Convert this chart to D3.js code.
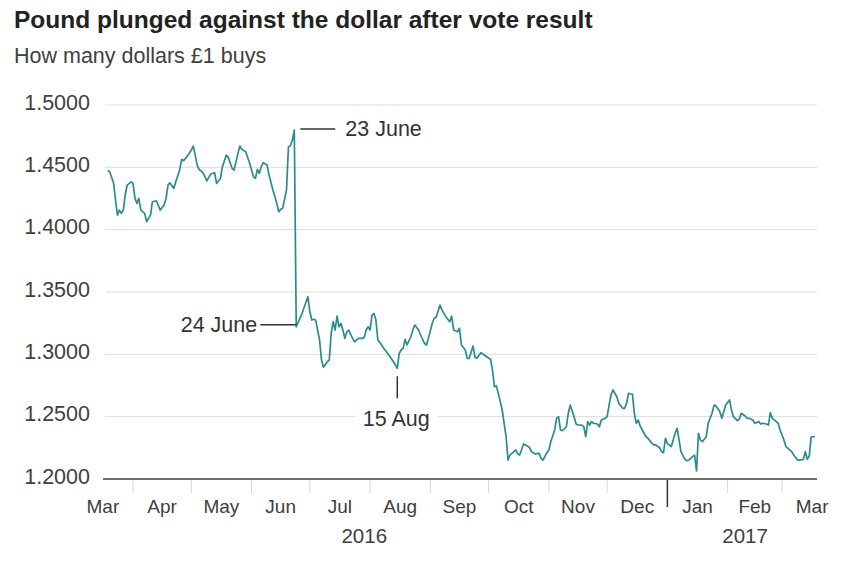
<!DOCTYPE html>
<html>
<head>
<meta charset="utf-8">
<script src="https://cdn.jsdelivr.net/npm/d3@7"></script>
<style>
  html, body { margin: 0; padding: 0; background: #fff; }
  svg { display: block; font-family: "Liberation Sans", Arial, Helvetica, sans-serif; }
</style>
</head>
<body>
<svg id="chart" width="859" height="564"></svg>
<script>
// ---- Data ----
const titleText = "Pound plunged against the dollar after vote result";
const subtitleText = "How many dollars £1 buys";

const dates = [
 "2016-03-19","2016-03-20","2016-03-22","2016-03-23","2016-03-24","2016-03-25","2016-03-26","2016-03-27","2016-03-28","2016-03-29","2016-03-31",
 "2016-04-01","2016-04-02","2016-04-03","2016-04-04","2016-04-05","2016-04-07","2016-04-08","2016-04-10","2016-04-11","2016-04-13","2016-04-14","2016-04-15","2016-04-17","2016-04-18","2016-04-19","2016-04-20","2016-04-22","2016-04-23","2016-04-25","2016-04-26","2016-04-27","2016-04-29",
 "2016-05-01","2016-05-02","2016-05-03","2016-05-04","2016-05-05","2016-05-07","2016-05-09","2016-05-11","2016-05-13","2016-05-14","2016-05-16","2016-05-17","2016-05-19","2016-05-20","2016-05-22","2016-05-23","2016-05-25","2016-05-26","2016-05-27","2016-05-29","2016-05-31",
 "2016-06-02","2016-06-03","2016-06-04","2016-06-05","2016-06-06","2016-06-07","2016-06-09","2016-06-10","2016-06-12","2016-06-14","2016-06-15","2016-06-16","2016-06-17","2016-06-19","2016-06-20","2016-06-21","2016-06-22","2016-06-23","2016-06-24","2016-06-27","2016-06-30",
 "2016-07-01","2016-07-02","2016-07-03","2016-07-04","2016-07-06","2016-07-07","2016-07-08","2016-07-10","2016-07-11","2016-07-12","2016-07-13","2016-07-14","2016-07-15","2016-07-16","2016-07-17","2016-07-18","2016-07-19","2016-07-20","2016-07-21","2016-07-23","2016-07-24","2016-07-26","2016-07-28","2016-07-29","2016-07-30","2016-07-31",
 "2016-08-01","2016-08-02","2016-08-03","2016-08-04","2016-08-05","2016-08-07","2016-08-08","2016-08-10","2016-08-11","2016-08-13","2016-08-15","2016-08-16","2016-08-17","2016-08-18","2016-08-19","2016-08-20","2016-08-22","2016-08-23","2016-08-24","2016-08-26","2016-08-27","2016-08-29","2016-08-30","2016-08-31",
 "2016-09-02","2016-09-03","2016-09-04","2016-09-06","2016-09-07","2016-09-09","2016-09-11","2016-09-12","2016-09-13","2016-09-15","2016-09-16","2016-09-17","2016-09-19","2016-09-20","2016-09-21","2016-09-23","2016-09-24","2016-09-25","2016-09-27","2016-09-28","2016-09-30",
 "2016-10-02","2016-10-03","2016-10-04","2016-10-05","2016-10-06","2016-10-08","2016-10-09","2016-10-10","2016-10-11","2016-10-12","2016-10-14","2016-10-15","2016-10-16","2016-10-17","2016-10-19","2016-10-20","2016-10-22","2016-10-23","2016-10-25","2016-10-27","2016-10-28","2016-10-29","2016-10-31",
 "2016-11-01","2016-11-02","2016-11-04","2016-11-05","2016-11-06","2016-11-07","2016-11-08","2016-11-10","2016-11-11","2016-11-12","2016-11-14","2016-11-15","2016-11-16","2016-11-18","2016-11-19","2016-11-20","2016-11-21","2016-11-22","2016-11-23","2016-11-24","2016-11-26","2016-11-27","2016-11-28","2016-11-30",
 "2016-12-01","2016-12-02","2016-12-03","2016-12-04","2016-12-06","2016-12-07","2016-12-09","2016-12-10","2016-12-11","2016-12-12","2016-12-13","2016-12-14","2016-12-15","2016-12-16","2016-12-17","2016-12-18","2016-12-20","2016-12-21","2016-12-22","2016-12-24","2016-12-25","2016-12-26","2016-12-28","2016-12-29","2016-12-30","2016-12-31",
 "2017-01-01","2017-01-03","2017-01-04","2017-01-05","2017-01-06","2017-01-07","2017-01-08","2017-01-10","2017-01-11","2017-01-12","2017-01-14","2017-01-15","2017-01-16","2017-01-17","2017-01-18","2017-01-19","2017-01-21","2017-01-22","2017-01-24","2017-01-25","2017-01-26","2017-01-28","2017-01-29","2017-01-30","2017-01-31",
 "2017-02-02","2017-02-03","2017-02-04","2017-02-06","2017-02-07","2017-02-08","2017-02-10","2017-02-11","2017-02-12","2017-02-14","2017-02-15","2017-02-17","2017-02-18","2017-02-19","2017-02-21","2017-02-22","2017-02-23","2017-02-24","2017-02-26","2017-02-27","2017-02-28",
 "2017-03-02","2017-03-03","2017-03-04","2017-03-06","2017-03-07","2017-03-09","2017-03-10","2017-03-12","2017-03-13","2017-03-14","2017-03-15","2017-03-16","2017-03-18"
];

const rates = [
 1.4478,1.4464,1.4374,1.4238,1.4117,1.4157,1.4131,1.4157,1.4278,1.4358,1.4384,
 1.4371,1.4251,1.4211,1.4251,1.4157,1.4131,1.4064,1.4117,1.4224,1.4232,1.4197,1.4157,1.4197,1.4251,1.4358,1.4376,1.4331,1.4384,1.4478,1.4564,1.4553,1.4590,
 1.4639,1.4671,1.4598,1.4518,1.4484,1.4457,1.4392,1.4446,1.4457,1.4371,1.4412,1.4505,1.4598,1.4580,1.4492,1.4478,1.4612,1.4671,1.4644,1.4625,1.4532,
 1.4424,1.4412,1.4484,1.4452,1.4505,1.4537,1.4518,1.4438,1.4318,1.4211,1.4144,1.4163,1.4171,1.4318,1.4665,1.4671,1.4719,1.4799,1.3221,1.3329,1.3462,
 1.3342,1.3275,1.3281,1.3275,1.3115,1.2954,1.2896,1.2941,1.2954,1.3169,1.3262,1.3195,1.3307,1.3221,1.3249,1.3195,1.3128,1.3181,1.3195,1.3128,1.3101,1.3128,1.3128,1.3136,1.3195,1.3221,
 1.3195,1.3315,1.3329,1.3275,1.3115,1.3075,1.3048,1.3008,1.2986,1.2941,1.2888,1.3008,1.3035,1.3048,1.3120,1.3075,1.3141,1.3195,1.3235,1.3195,1.3155,1.3088,1.3075,1.3128,
 1.3249,1.3289,1.3297,1.3395,1.3355,1.3302,1.3262,1.3307,1.3195,1.3181,1.3209,1.3075,1.3035,1.2968,1.2968,1.3067,1.2976,1.2968,1.3013,1.3003,1.2981,
 1.2960,1.2874,1.2740,1.2746,1.2687,1.2553,1.2447,1.2339,1.2152,1.2192,1.2219,1.2233,1.2201,1.2192,1.2281,1.2273,1.2254,1.2219,1.2201,1.2206,1.2166,1.2152,1.2211,
 1.2233,1.2299,1.2393,1.2487,1.2500,1.2393,1.2387,1.2419,1.2527,1.2593,1.2500,1.2441,1.2433,1.2433,1.2419,1.2339,1.2460,1.2433,1.2460,1.2447,1.2441,1.2419,1.2473,1.2487,
 1.2500,1.2593,1.2674,1.2714,1.2660,1.2607,1.2567,1.2567,1.2607,1.2687,1.2682,1.2682,1.2527,1.2447,1.2473,1.2425,1.2367,1.2339,1.2326,1.2286,1.2273,1.2273,1.2251,1.2219,1.2211,1.2326,
 1.2286,1.2259,1.2313,1.2367,1.2407,1.2313,1.2219,1.2158,1.2147,1.2152,1.2179,1.2192,1.2064,1.2367,1.2313,1.2299,1.2339,1.2447,1.2527,1.2593,1.2585,1.2540,1.2487,1.2540,1.2593,
 1.2634,1.2553,1.2500,1.2468,1.2479,1.2527,1.2505,1.2487,1.2487,1.2473,1.2447,1.2460,1.2441,1.2447,1.2441,1.2433,1.2532,1.2487,1.2460,1.2447,1.2393,
 1.2313,1.2259,1.2246,1.2219,1.2192,1.2152,1.2152,1.2158,1.2219,1.2158,1.2184,1.2339,1.2339
];

const yTicks = [1.20, 1.25, 1.30, 1.35, 1.40, 1.45, 1.50];
const monthLabels = ["Mar","Apr","May","Jun","Jul","Aug","Sep","Oct","Nov","Dec","Jan","Feb","Mar"];
const yearLabels = ["2016", "2017"];
const yearLabelDates = ["2016-07-29", "2017-02-10"];
const annotations = [
  { date: "2016-06-23", label: "23 June", side: "right" },
  { date: "2016-06-24", label: "24 June", side: "left" },
  { date: "2016-08-15", label: "15 Aug", side: "below" }
];

// ---- Setup ----
const parse = d3.utcParse("%Y-%m-%d");
const data = dates.map((d, i) => ({ date: parse(d), value: rates[i] }));

const svg = d3.select("#chart");
const plotLeft = 105, plotRight = 817, plotTop = 105, plotBottom = 479;

const x = d3.scaleUtc()
  .domain([new Date(Date.UTC(2016, 2, 17, 14)), new Date(Date.UTC(2017, 2, 19))])
  .range([plotLeft, plotRight]);
const y = d3.scaleLinear().domain([1.2, 1.5]).range([plotBottom, plotTop]);

const textColor = "#404040";

// Title & subtitle
svg.append("text").attr("x", 14).attr("y", 28)
  .attr("font-size", 24.5).attr("font-weight", "bold").attr("fill", "#222")
  .text(titleText);
svg.append("text").attr("x", 14).attr("y", 63)
  .attr("font-size", 21.5).attr("fill", textColor)
  .text(subtitleText);

// Gridlines + y labels
const fmt = d3.format(".4f");
const gy = svg.append("g");
gy.selectAll("line.grid").data(yTicks.filter(t => t > 1.2)).join("line")
  .attr("x1", plotLeft).attr("x2", plotRight)
  .attr("y1", d => y(d)).attr("y2", d => y(d))
  .attr("stroke", "#dcdcdc").attr("stroke-width", 1);
gy.selectAll("text").data(yTicks).join("text")
  .attr("x", 90).attr("y", d => y(d) - 3)
  .attr("dy", "0.35em")
  .attr("text-anchor", "end")
  .attr("font-size", 21.5).attr("fill", textColor)
  .text(d => fmt(d));

// X axis: month ticks
const monthStarts = d3.utcMonth.range(new Date(Date.UTC(2016, 3, 1)), new Date(Date.UTC(2017, 2, 2)));
const yearStart = new Date(Date.UTC(2017, 0, 1));
svg.append("g").selectAll("line").data(monthStarts.filter(d => +d !== +yearStart)).join("line")
  .attr("x1", d => x(d)).attr("x2", d => x(d))
  .attr("y1", plotBottom).attr("y2", plotBottom + 14)
  .attr("stroke", "#d6d6d6").attr("stroke-width", 1);
svg.append("line")
  .attr("x1", x(yearStart)).attr("x2", x(yearStart))
  .attr("y1", plotBottom).attr("y2", plotBottom + 28)
  .attr("stroke", "#333").attr("stroke-width", 1.5);

// Month labels at the middle of each month
const labelMonths = d3.utcMonth.range(new Date(Date.UTC(2016, 2, 1)), new Date(Date.UTC(2017, 2, 2)));
svg.append("g").selectAll("text").data(labelMonths).join("text")
  .attr("x", d => {
    const next = d3.utcMonth.offset(d, 1);
    return x(new Date((+d + +next) / 2));
  })
  .attr("y", 513)
  .attr("text-anchor", "middle")
  .attr("font-size", 19).attr("fill", textColor)
  .text((d, i) => monthLabels[i]);

svg.append("g").selectAll("text").data(yearLabels).join("text")
  .attr("x", (d, i) => x(parse(yearLabelDates[i])))
  .attr("y", 543)
  .attr("text-anchor", "middle")
  .attr("font-size", 20.5).attr("fill", textColor)
  .text(d => d);

// Baseline
svg.append("line")
  .attr("x1", plotLeft - 2).attr("x2", plotRight)
  .attr("y1", plotBottom).attr("y2", plotBottom)
  .attr("stroke", "#6e6e6e").attr("stroke-width", 2);

// The line
const line = d3.line().x(d => x(d.date)).y(d => y(d.value));
svg.append("path").datum(data)
  .attr("d", line)
  .attr("fill", "none")
  .attr("stroke", "#2a8c8c")
  .attr("stroke-width", 1.7)
  .attr("stroke-linejoin", "round");

// Annotations
const ann = svg.append("g");
annotations.forEach(a => {
  const pt = data.find(d => +d.date === +parse(a.date));
  const px = x(pt.date), py = y(pt.value);
  if (a.side === "right") {
    ann.append("line").attr("x1", px + 6).attr("x2", px + 41).attr("y1", py - 1).attr("y2", py - 1)
      .attr("stroke", "#333").attr("stroke-width", 1.5);
    ann.append("text").attr("x", px + 51).attr("y", py + 6)
      .attr("font-size", 21.5).attr("fill", "#333").text(a.label);
  } else if (a.side === "left") {
    ann.append("line").attr("x1", px - 36).attr("x2", px).attr("y1", py - 2).attr("y2", py - 2)
      .attr("stroke", "#333").attr("stroke-width", 1.5);
    ann.append("text").attr("x", px - 39).attr("y", py + 5)
      .attr("text-anchor", "end")
      .attr("font-size", 21.5).attr("fill", "#333").text(a.label);
  } else {
    ann.append("line").attr("x1", px).attr("x2", px).attr("y1", py + 8).attr("y2", py + 30)
      .attr("stroke", "#333").attr("stroke-width", 1.5);
    const t = ann.append("text").attr("x", px - 1).attr("y", py + 58)
      .attr("text-anchor", "middle")
      .attr("font-size", 21.5).attr("fill", "#333").text(a.label);
    const bb = t.node().getBBox();
    ann.insert("rect", "text").attr("x", bb.x - 8).attr("y", bb.y - 2)
      .attr("width", bb.width + 16).attr("height", bb.height + 4)
      .attr("fill", "#fff");
  }
});
</script>
</body>
</html>
